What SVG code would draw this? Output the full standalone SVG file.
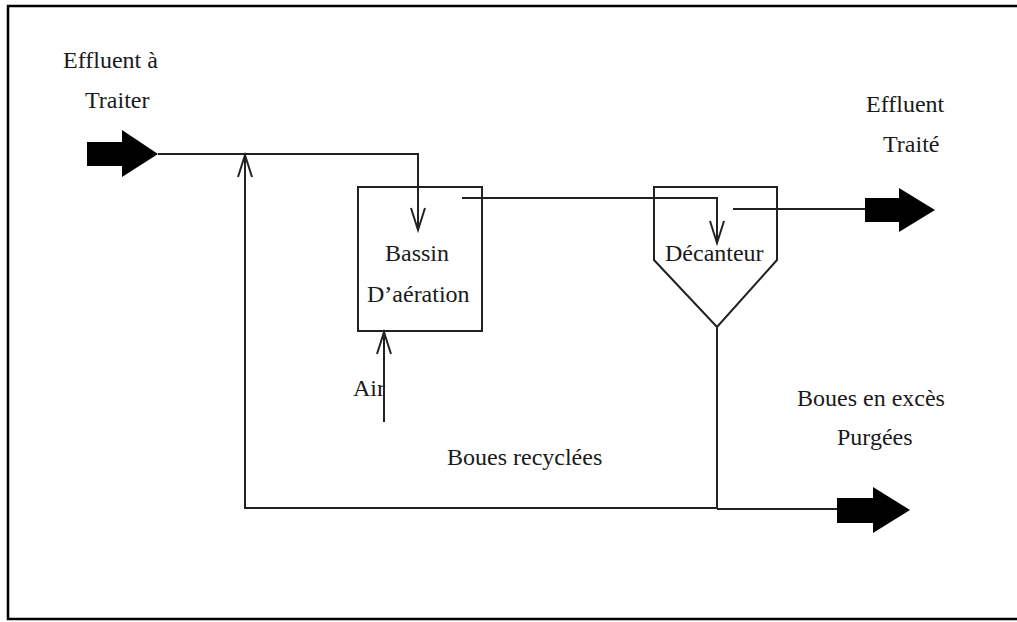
<svg xmlns="http://www.w3.org/2000/svg" width="1017" height="622" viewBox="0 0 1017 622">
  <style>
    .ln { fill: none; stroke: #222; stroke-width: 2; }
    .shape { fill: #fff; stroke: #222; stroke-width: 2; }
    .blk { fill: #000; stroke: none; }
    .t { font-family: "Liberation Serif", "Times New Roman", serif; font-size: 24px; fill: #1a1a1a; }
  </style>
  <defs>
    <marker id="v" markerUnits="userSpaceOnUse" markerWidth="30" markerHeight="20" viewBox="-24 -10 30 20" refX="0" refY="0" orient="auto">
      <path d="M -22 -7 L 0 0 L -22 7" fill="none" stroke="#222" stroke-width="2"/>
    </marker>
  </defs>
  <rect width="1017" height="622" fill="#fff"/>
  <path d="M 1017 6 H 8 V 619 H 1017" fill="none" stroke="#000" stroke-width="2.5"/>

  <g id="bassin">
    <rect class="shape" x="358" y="187" width="124" height="144"/>
    <text class="t" x="385" y="261">Bassin</text>
    <text class="t" x="367" y="302">D’aération</text>
  </g>

  <g id="decanteur">
    <polygon class="shape" points="654,187 777,187 777,260 717,327 654,260"/>
    <text class="t" x="665" y="261">Décanteur</text>
  </g>

  <g id="effluent-in">
    <text class="t" x="63" y="68">Effluent à</text>
    <text class="t" x="85" y="108">Traiter</text>
    <polygon class="blk" points="87,142 122,142 122,130 158,154 122,177 122,166 87,166"/>
  </g>

  <g id="effluent-out">
    <text class="t" x="866" y="112">Effluent</text>
    <text class="t" x="883" y="152">Traité</text>
    <polygon class="blk" points="865,198 899,198 899,188 935,210 899,232 899,222 865,222"/>
  </g>

  <g id="boues-purgees">
    <text class="t" x="797" y="406">Boues en excès</text>
    <text class="t" x="837" y="445">Purgées</text>
    <polygon class="blk" points="837,498 873,498 873,487 910,510 873,533 873,523 837,523"/>
  </g>

  <g id="air">
    <text class="t" x="353" y="396">Air</text>
  </g>

  <g id="boues-recyclees">
    <text class="t" x="447" y="465">Boues recyclées</text>
  </g>

  <g id="connectors">
    <path class="ln" d="M 158 154 H 418 V 230" marker-end="url(#v)"/>
    <path class="ln" d="M 717 327 V 508 H 245 V 155" marker-end="url(#v)"/>
    <path class="ln" d="M 717 509 H 837" stroke="#555"/>
    <path class="ln" d="M 462 198 H 717 V 243" marker-end="url(#v)"/>
    <path class="ln" d="M 733 209 H 865"/>
    <path class="ln" d="M 384 422 V 332" marker-end="url(#v)"/>
  </g>
</svg>
